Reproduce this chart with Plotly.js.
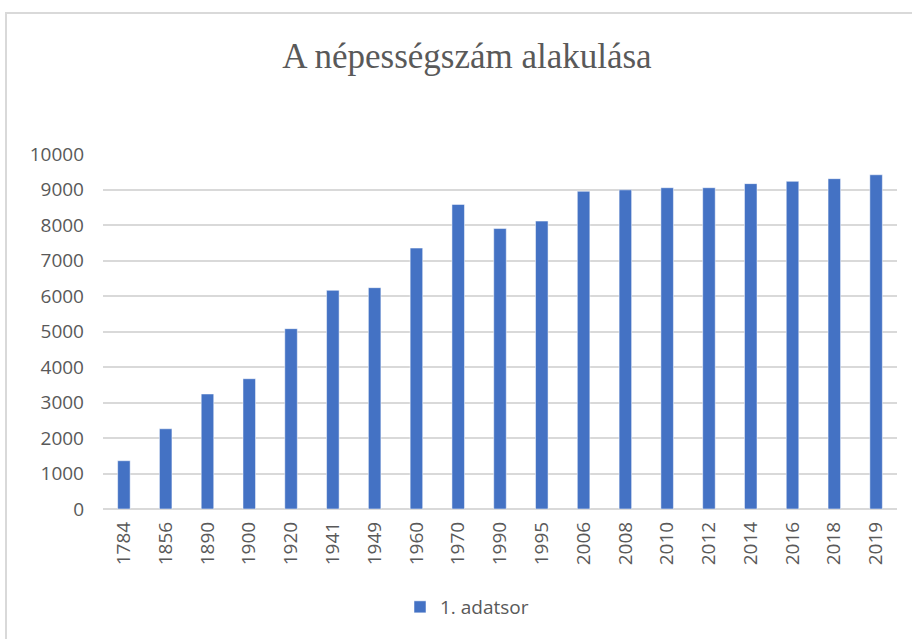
<!DOCTYPE html>
<html>
<head>
<meta charset="utf-8">
<script src="https://cdn.plot.ly/plotly-3.0.1.min.js"></script>
<style>
html,body{margin:0;padding:0;background:#fff;}
#wrap{position:relative;width:912px;height:639px;overflow:hidden;}
#chart{width:912px;height:639px;}
#frame{position:absolute;left:5px;top:12px;width:930px;height:660px;border:2px solid #d9d9d9;box-sizing:border-box;pointer-events:none;}
</style>
</head>
<body>
<div id="wrap"><div id="chart"></div><div id="frame"></div></div>
<script>
const years = ["1784","1856","1890","1900","1920","1941","1949","1960","1970","1990","1995","2006","2008","2010","2012","2014","2016","2018","2019"];
const population = [1360,2260,3240,3670,5080,6160,6235,7350,8580,7900,8110,8950,8990,9050,9050,9165,9230,9305,9415];
const seriesName = "1. adatsor";
const chartTitle = "A népességszám alakulása";
const yTicks = [0,1000,2000,3000,4000,5000,6000,7000,8000,9000,10000];

const labelFont = {family: "Open Sans, sans-serif", size: 19, color: "#595959"};

Plotly.newPlot("chart", [{
  type: "bar",
  x: years,
  y: population,
  name: seriesName,
  marker: {color: "#4472C4", line: {color: "rgba(255,255,255,0.5)", width: 1}},
  showlegend: true
}], {
  width: 912, height: 639,
  margin: {l: 103, r: 15, t: 154, b: 130},
  paper_bgcolor: "#fff", plot_bgcolor: "#fff",
  bargap: 0.7,
  title: {
    text: chartTitle,
    font: {family: "Liberation Serif, serif", size: 35, color: "#595959"},
    x: 467/912, xref: "container", xanchor: "center",
    y: 1 - 56/639, yref: "container", yanchor: "middle"
  },
  xaxis: {
    type: "category",
    tickangle: -90,
    tickfont: labelFont,
    showgrid: false,
    showline: false,
    ticks: "",
    ticklabelstandoff: 8
  },
  yaxis: {
    range: [0, 10000],
    tickvals: yTicks,
    ticktext: yTicks.map(String),
    tickfont: labelFont,
    gridcolor: "#d9d9d9",
    gridwidth: 2,
    zeroline: true,
    zerolinecolor: "#d9d9d9",
    zerolinewidth: 2,
    showline: false,
    ticks: "",
    ticklabelstandoff: 18
  },
  legend: {
    orientation: "h",
    x: 467/912, xref: "container", xanchor: "center",
    y: 1 - 607/639, yref: "container", yanchor: "middle",
    font: labelFont
  }
}, {displayModeBar: false, staticPlot: true});
</script>
</body>
</html>
